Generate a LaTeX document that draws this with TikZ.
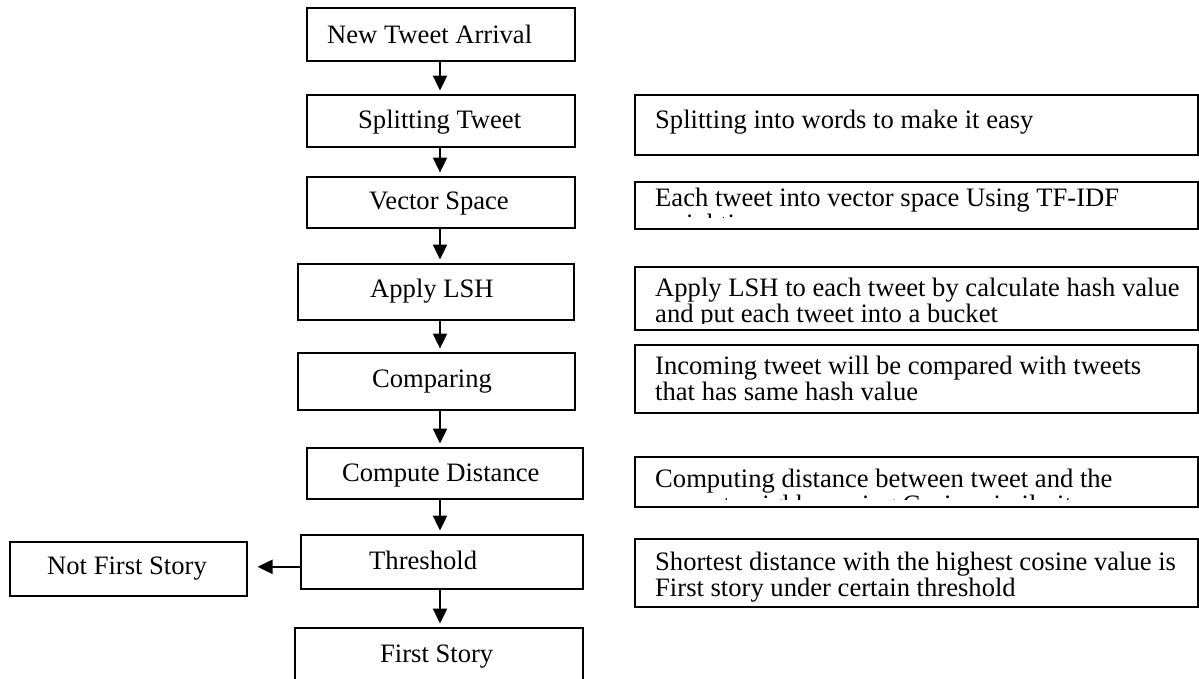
\documentclass[tikz,border=0pt]{standalone}
\usepackage{fontspec}
\setmainfont{Liberation Serif}
\usetikzlibrary{arrows.meta}

\begin{document}
\begin{tikzpicture}[x=1pt,y=-1pt,
  box/.style={draw, line width=1.6pt, rectangle, inner sep=0pt, anchor=north west},
  lbl/.style={inner sep=0pt, anchor=base west, font=\fontsize{26.6}{30}\selectfont},
  flow/.style={line width=2.4pt, -{Triangle[width=14pt,length=15pt]}, shorten >=3.5pt}
]
\useasboundingbox (0,0) rectangle (1199,678);
\clip (0,0) rectangle (1199,678);

% vertical line on which the main flow arrows run
\coordinate (spine) at (440,0);

% ---- main process column ----
\node[box, minimum width=268pt, minimum height=53pt] (nta) at (306,7)   {};
\node[lbl] (ntaT) at (327,43) {New Tweet Arrival};

\node[box, minimum width=268pt, minimum height=52pt] (st)  at (306,94)  {};
\node[lbl] (stT) at (358,128) {Splitting Tweet};

\node[box, minimum width=268pt, minimum height=51pt] (vs)  at (306,176) {};
\node[lbl] (vsT) at (369,209) {Vector Space};

\node[box, minimum width=276pt, minimum height=56pt] (al)  at (297,263) {};
\node[lbl] (alT) at (370,297) {Apply LSH};

\node[box, minimum width=277pt, minimum height=57pt] (cmp) at (297,352) {};
\node[lbl] (cmpT) at (372,387) {Comparing};

\node[box, minimum width=276pt, minimum height=51pt] (cd)  at (306,447) {};
\node[lbl] (cdT) at (342,481) {Compute Distance};

\node[box, minimum width=282pt, minimum height=54pt] (th)  at (300,534) {};
\node[lbl] (thT) at (369,569) {Threshold};

\node[box, minimum width=288pt, minimum height=73pt] (fs)  at (294,627) {};
\node[lbl] (fsT) at (380,662) {First Story};

\node[box, minimum width=237pt, minimum height=54pt] (nfs) at (9,541) {};
\node[lbl] (nfsT) at (47,574) {Not First Story};

% ---- flow arrows ----
\draw[flow] (nta.south -| spine) -- (st.north -| spine);
\draw[flow] (st.south -| spine)  -- (vs.north -| spine);
\draw[flow] (vs.south -| spine)  -- (al.north -| spine);
\draw[flow] (al.south -| spine)  -- (cmp.north -| spine);
\draw[flow] (cmp.south -| spine) -- (cd.north -| spine);
\draw[flow] (cd.south -| spine)  -- (th.north -| spine);
\draw[flow] (th.south -| spine)  -- (fs.north -| spine);
\draw[flow, shorten >=10pt] ([yshift=-5pt]th.west) -- ([yshift=-5pt]th.west -| nfs.east);

% ---- description column ----
\node[box, minimum width=563pt, minimum height=60pt] (r1) at (634,94) {};
\node[lbl] (r1a) at (655,128) {Splitting into words to make it easy};

\node[box, minimum width=563pt, minimum height=47pt] (r2) at (634,181) {};
\node[lbl] (r2a) at (655,206) {Each tweet into vector space Using TF-IDF};
\begin{scope}
  \clip (634,217.5) rectangle (r2.north east);
  \node[lbl] (r2b) at (655,232.5) {weighting};
\end{scope}

\node[box, minimum width=563pt, minimum height=63pt] (r3) at (634,266) {};
\begin{scope}
  \clip (634,323.5) rectangle (r3.north east);
  \node[lbl] (r3a) at (655,296) {Apply LSH to each tweet by calculate hash value};
  \node[lbl] (r3b) at (655,322.5) {and put each tweet into a bucket};
\end{scope}

\node[box, minimum width=563pt, minimum height=68pt] (r4) at (634,344) {};
\node[lbl] (r4a) at (655,374) {Incoming tweet will be compared with tweets};
\node[lbl] (r4b) at (655,400.5) {that has same hash value};

\node[box, minimum width=563pt, minimum height=50pt] (r5) at (634,456) {};
\node[lbl] (r5a) at (655,487) {Computing distance between tweet and the};
\begin{scope}
  \clip (634,499) rectangle (r5.north east);
  \node[lbl] (r5b) at (655,513.5) {nearest neighbor using Cosine similarity};
\end{scope}

\node[box, minimum width=563pt, minimum height=68pt] (r6) at (634,538) {};
\node[lbl] (r6a) at (655,570) {Shortest distance with the highest cosine value is};
\node[lbl] (r6b) at (655,596.5) {First story under certain threshold};
\end{tikzpicture}
\end{document}
